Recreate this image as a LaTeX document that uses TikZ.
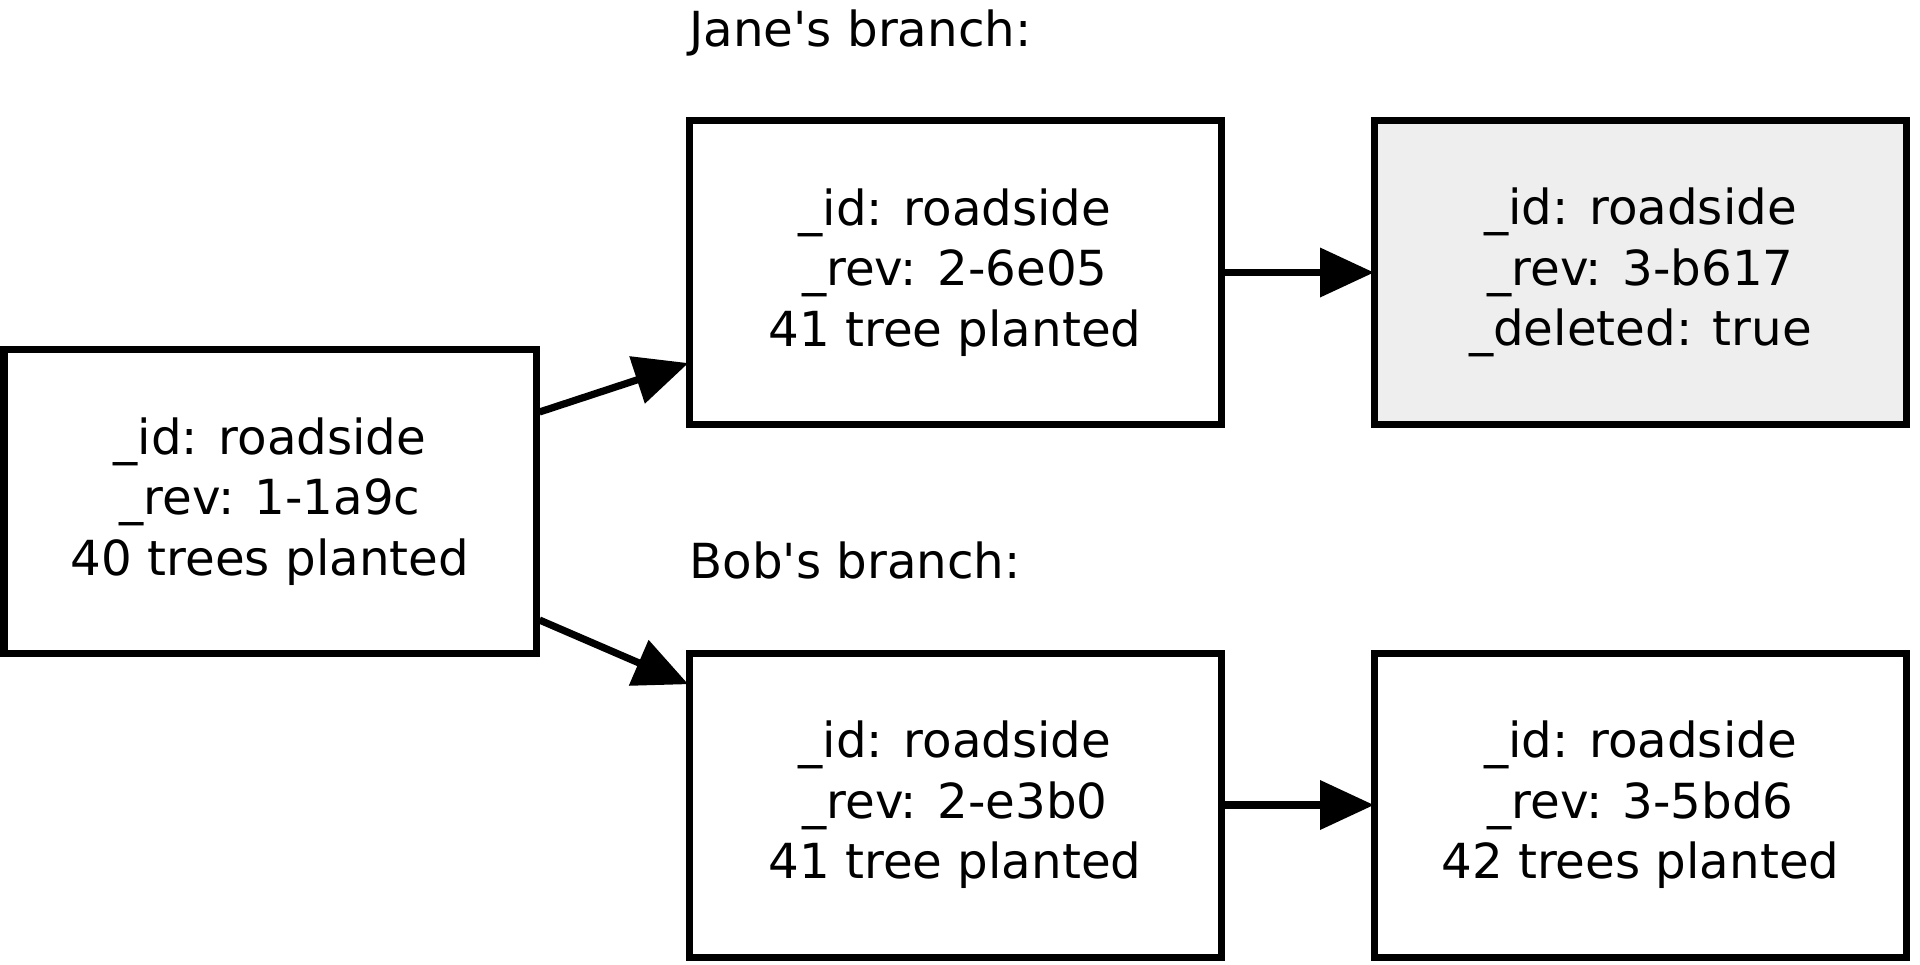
\documentclass[tikz,border=0pt]{standalone}
\usepackage{fontspec}
\setmainfont{DejaVu Sans}[Ligatures=TeXOff]
\usetikzlibrary{arrows.meta,calc}
\definecolor{delgray}{HTML}{EEEEEE}
\begin{document}
\begin{tikzpicture}[x=0.5pt,y=-0.5pt,
  doc/.style={draw=black, line width=3.5pt, rectangle, minimum width=266pt, minimum height=152pt, inner sep=0pt, align=center, font=\fontsize{24.15}{30.2}\selectfont},
  lbl/.style={inner sep=0pt, anchor=base west, font=\fontsize{24.15}{29.7}\selectfont},
  edge/.style={line width=3.6pt, shorten >=-1.5pt, -{Triangle[length=27pt,width=24pt]}}
]
\useasboundingbox (0,0) rectangle (1920,964);
\node[doc] (left) at (270,501.5) {\_id: roadside\\\_rev: 1-1a9c\\40 trees planted};
\node[doc] (jane1) at (955,272.5) {\_id: roadside\\\_rev: 2-6e05\\41 tree planted};
\node[doc, fill=delgray] (jane2) at (1640.5,272.5) {\_id: roadside\\\_rev: 3-b617\\\_deleted: true};
\node[doc] (bob1) at (955,805) {\_id: roadside\\\_rev: 2-e3b0\\41 tree planted};
\node[doc] (bob2) at (1640.5,805) {\_id: roadside\\\_rev: 3-5bd6\\42 trees planted};
\node[lbl] (janelbl) at (689,46.5) {Jane's branch:};
\node[lbl] (boblbl) at (689,578) {Bob's branch:};
\draw[edge] ($(left.east)+(0,-89.5)$) -- ($(jane1.west)+(0,91.5)$);
\draw[edge] ($(left.east)+(0,118.5)$) -- ($(bob1.west)+(0,-122)$);
\draw[edge] (jane1.east) -- (jane2.west);
\draw[edge] (bob1.east) -- (bob2.west);
\end{tikzpicture}
\end{document}
